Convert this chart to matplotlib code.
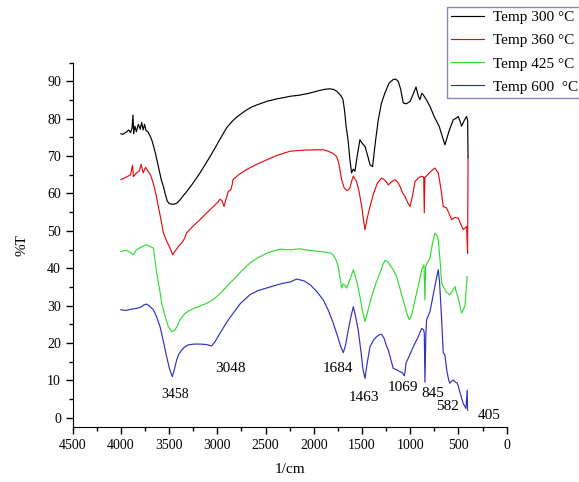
import numpy as np
import matplotlib.pyplot as plt
from matplotlib.ticker import MultipleLocator

plt.rcParams['font.family'] = ['Liberation Serif', 'DejaVu Serif']

# FTIR spectra (wavenumber in 1/cm, %T)
wn_300 = [4000, 3980, 3960, 3940, 3920, 3900, 3885, 3875, 3868, 3855, 3840, 3820, 3800, 3785,
          3770, 3755, 3740, 3720, 3700, 3681, 3660, 3640, 3610, 3580, 3560, 3540, 3520, 3500,
          3470, 3440, 3420, 3390, 3360, 3318, 3260, 3220, 3180, 3120, 3080, 3043, 2980, 2940,
          2903, 2850, 2800, 2765, 2700, 2640, 2558, 2480, 2385, 2300, 2247, 2150, 2050, 1950,
          1880, 1832, 1790, 1760, 1730, 1710, 1697, 1680, 1665, 1645, 1625, 1608, 1590, 1573,
          1550, 1521, 1500, 1469, 1440, 1417, 1390, 1360, 1331, 1300, 1262, 1220, 1176, 1150,
          1124, 1100, 1072, 1040, 1002, 970, 940, 915, 899, 880, 865, 830, 795, 750, 700, 670,
          640, 600, 554, 520, 502, 485, 467, 440, 415, 404, 400]
t_300 = [76.0, 75.8, 76.2, 76.5, 77.0, 76.3, 77.5, 81.0, 76.0, 78.0, 76.5, 78.5, 77.2, 79.0,
         77.0, 78.5, 76.8, 76.5, 75.5, 74.4, 72.5, 70.5, 67.0, 63.5, 61.9, 59.8, 58.0, 57.3,
         57.1, 57.2, 57.4, 58.2, 59.2, 60.5, 62.5, 64.0, 65.5, 68.0, 69.7, 71.3, 74.2, 76.0,
         77.6, 79.2, 80.4, 81.1, 82.3, 83.2, 84.0, 84.7, 85.3, 85.7, 86.0, 86.3, 86.8, 87.5,
         87.9, 88.0, 87.8, 87.3, 86.5, 85.8, 85.1, 82.0, 78.0, 74.4, 69.0, 65.5, 66.5, 65.9,
         70.0, 74.4, 73.5, 72.6, 70.0, 67.7, 67.2, 74.0, 79.7, 84.0, 86.9, 89.5, 90.5, 90.6,
         90.0, 88.0, 84.2, 84.0, 84.6, 86.5, 88.5, 86.0, 85.1, 86.8, 86.4, 85.0, 83.3, 80.5,
         78.0, 75.5, 73.0, 76.5, 79.7, 80.2, 80.6, 79.5, 78.0, 79.5, 80.6, 79.5, 69.5]

wn_360 = [4000, 3950, 3900, 3880, 3870, 3840, 3810, 3790, 3770, 3745, 3720, 3690, 3657, 3635,
          3612, 3585, 3560, 3525, 3491, 3463, 3440, 3420, 3400, 3370, 3340, 3318, 3250, 3180,
          3110, 3042, 2990, 2973, 2950, 2931, 2910, 2887, 2860, 2845, 2838, 2780, 2696, 2600,
          2488, 2380, 2247, 2100, 1950, 1902, 1850, 1800, 1763, 1740, 1711, 1685, 1659, 1640,
          1625, 1605, 1590, 1575, 1556, 1530, 1503, 1485, 1469, 1445, 1417, 1380, 1340, 1296,
          1260, 1227, 1190, 1158, 1130, 1106, 1080, 1054, 1025, 1002, 975, 950, 915, 881, 860,
          854, 847, 820, 790, 760, 744, 709, 680, 657, 622, 595, 571, 535, 502, 475, 450, 430,
          415, 405, 400]
t_360 = [63.7, 64.3, 65.0, 67.5, 64.5, 65.5, 66.0, 67.8, 65.5, 67.0, 66.0, 64.8, 62.0, 59.5,
         56.5, 53.0, 49.5, 47.2, 45.4, 43.6, 44.5, 45.2, 46.0, 46.7, 48.0, 49.5, 51.3, 53.0,
         54.8, 56.5, 57.8, 58.5, 58.0, 56.5, 58.5, 60.5, 61.0, 62.5, 63.7, 65.0, 66.4, 67.7,
         69.0, 70.2, 71.3, 71.6, 71.7, 71.7, 71.3, 70.7, 69.9, 68.0, 63.7, 61.5, 60.8, 61.0,
         61.5, 63.5, 64.6, 64.0, 63.2, 60.5, 56.5, 53.0, 50.3, 53.5, 56.5, 60.0, 62.8, 64.1,
         63.5, 62.3, 63.2, 63.7, 63.0, 61.9, 60.2, 59.2, 57.5, 56.5, 59.5, 63.2, 64.2, 64.6,
         64.4, 54.8, 64.3, 65.0, 65.8, 66.5, 66.8, 65.5, 61.0, 56.5, 56.1, 54.5, 53.0, 53.6,
         53.4, 51.8, 50.3, 50.8, 51.2, 44.0, 69.5]

wn_425 = [4000, 3950, 3900, 3872, 3840, 3800, 3760, 3733, 3700, 3664, 3645, 3629, 3600, 3577,
          3540, 3509, 3474, 3439, 3410, 3387, 3340, 3284, 3200, 3111, 3050, 3007, 2950, 2900,
          2835, 2750, 2662, 2580, 2489, 2420, 2350, 2300, 2247, 2150, 2050, 1951, 1880, 1816,
          1790, 1765, 1747, 1725, 1711, 1695, 1680, 1659, 1625, 1590, 1555, 1521, 1495, 1469,
          1440, 1400, 1355, 1314, 1285, 1262, 1235, 1210, 1175, 1141, 1100, 1054, 1030, 1009,
          985, 950, 915, 881, 857, 847, 840, 820, 795, 770, 744, 725, 709, 690, 674, 650, 620,
          588, 560, 536, 520, 502, 485, 467, 450, 433, 409]
t_425 = [44.5, 44.8, 44.2, 43.6, 44.9, 45.5, 46.0, 46.3, 45.8, 45.4, 42.0, 38.7, 34.5, 30.6,
         27.0, 24.4, 23.0, 23.5, 24.8, 26.2, 27.8, 28.8, 29.7, 30.6, 31.5, 32.4, 33.8, 35.2,
         36.9, 39.2, 41.4, 42.8, 44.0, 44.6, 45.1, 45.0, 44.9, 45.2, 44.8, 44.5, 44.3, 44.0,
         43.2, 42.0, 40.4, 37.0, 34.7, 35.8, 35.5, 34.7, 37.0, 39.6, 36.5, 32.4, 28.5, 25.7,
         28.5, 32.4, 36.0, 38.7, 40.8, 42.1, 41.8, 40.9, 39.5, 37.8, 34.0, 29.7, 27.5, 26.2,
         27.5, 31.5, 35.5, 39.6, 40.9, 31.5, 40.5, 41.5, 42.7, 46.5, 49.4, 48.8, 47.6, 42.0,
         36.0, 34.7, 33.5, 32.9, 34.0, 35.1, 33.5, 32.0, 30.0, 28.0, 29.0, 29.7, 37.8]

wn_600 = [4000, 3950, 3900, 3850, 3800, 3760, 3733, 3700, 3664, 3630, 3595, 3560, 3526, 3495,
          3467, 3445, 3422, 3400, 3370, 3340, 3301, 3240, 3180, 3120, 3059, 3020, 2973, 2920,
          2880, 2835, 2760, 2662, 2580, 2489, 2400, 2316, 2247, 2177, 2100, 2039, 1970, 1901,
          1850, 1798, 1750, 1720, 1694, 1670, 1642, 1615, 1590, 1570, 1539, 1510, 1490, 1469,
          1450, 1417, 1380, 1348, 1320, 1296, 1270, 1250, 1227, 1200, 1176, 1140, 1106, 1080,
          1061, 1052, 1044, 1010, 968, 920, 881, 860, 854, 847, 838, 830, 795, 760, 730, 709,
          695, 674, 657, 640, 620, 600, 588, 570, 554, 530, 513, 502, 470, 450, 422, 409, 405]
t_600 = [28.9, 28.7, 29.0, 29.2, 29.5, 30.2, 30.4, 29.8, 28.9, 27.0, 24.4, 20.5, 16.3, 13.0,
         11.0, 13.0, 15.5, 17.0, 18.1, 18.9, 19.5, 19.7, 19.7, 19.6, 19.2, 20.5, 22.6, 24.8,
         26.4, 28.0, 30.6, 32.9, 34.0, 34.7, 35.4, 36.0, 36.3, 37.1, 36.6, 35.6, 33.8, 31.5,
         28.8, 25.3, 21.5, 19.0, 17.4, 19.5, 23.5, 27.0, 29.7, 27.5, 23.5, 17.5, 13.0, 10.5,
         14.0, 19.0, 20.8, 21.7, 22.2, 22.3, 21.2, 19.5, 18.1, 15.5, 13.2, 12.8, 12.3, 12.0,
         11.2, 12.5, 14.6, 16.5, 19.0, 21.5, 23.9, 23.5, 22.6, 9.5, 22.0, 26.2, 28.4, 33.0,
         37.0, 39.6, 36.0, 26.2, 17.3, 16.8, 12.5, 10.0, 9.2, 9.8, 10.1, 9.5, 9.3, 8.5, 5.5,
         3.8, 2.5, 7.4, 2.0]

series = [
    (wn_300, t_300, 'black', 'Temp 300 °C'),
    (wn_360, t_360, '#e01010', 'Temp 360 °C'),
    (wn_425, t_425, '#30dd30', 'Temp 425 °C'),
    (wn_600, t_600, '#3030c0', 'Temp 600  °C'),
]

# peak labels and where their text sits
peak_labels = ['3458', '3048', '1684', '1463', '1069', '845', '582', '405']
label_x = [3439, 2869, 1749, 1479, 1075, 764, 609, 183]
label_y = [6.1, 13.3, 13.3, 5.5, 8.0, 6.6, 2.9, 0.7]
label_size = [10, 11, 11, 11, 11, 11, 11, 11]

fig = plt.figure(figsize=(5.79, 4.82), dpi=100)
ax = fig.add_axes([0.1256, 0.114, 0.7494, 0.756])

for wn, t, col, lab in series:
    ax.plot(wn, t, color=col, lw=0.85, label=lab)

for s, x, y, fs in zip(peak_labels, label_x, label_y, label_size):
    ax.text(x, y, s, fontsize=fs, ha='center', va='center')

ax.set_xlim(4500, 0)
ax.set_ylim(-2.5, 95)
ax.xaxis.set_major_locator(MultipleLocator(500))
ax.xaxis.set_minor_locator(MultipleLocator(250))
ax.yaxis.set_minor_locator(MultipleLocator(5))
ax.set_yticks(np.arange(0, 91, 10))
ax.tick_params(which='major', direction='out', length=5, width=1, labelsize=10)
ax.tick_params(which='minor', direction='out', length=3, width=1)
ax.spines['top'].set_visible(False)
ax.spines['right'].set_visible(False)
ax.set_xlabel('1/cm', fontsize=11, labelpad=8)
ax.set_ylabel('%T', fontsize=11, labelpad=13)

fig.legend(loc='upper left', bbox_to_anchor=(0.772, 0.986), fontsize=11,
           frameon=True, fancybox=False, edgecolor='#8888bb', framealpha=1,
           borderpad=0.25, borderaxespad=0, handlelength=2.2, handletextpad=0.55,
           labelspacing=0.62)

fig.savefig('out.png', dpi=100)
